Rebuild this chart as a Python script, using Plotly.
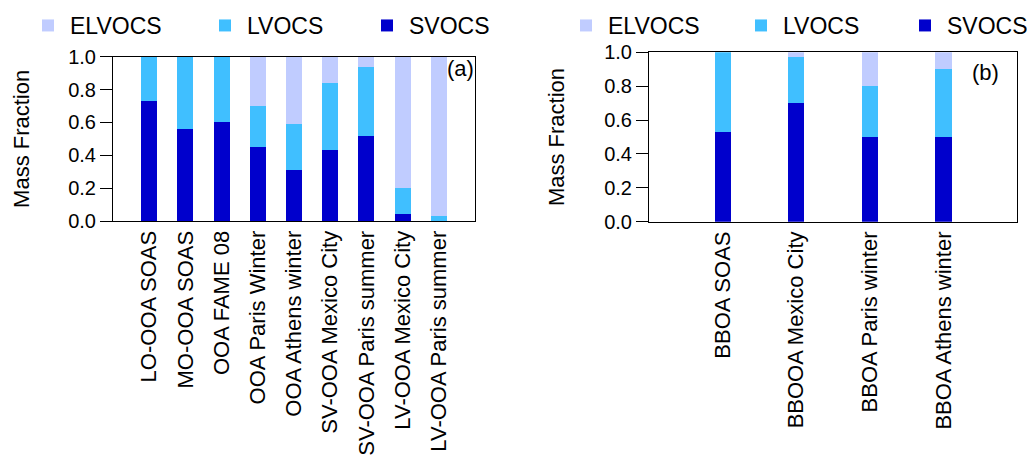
import plotly.graph_objects as go

# ---- data ----
cats_a = ["LO-OOA SOAS", "MO-OOA SOAS", "OOA FAME 08", "OOA Paris Winter",
          "OOA Athens winter", "SV-OOA Mexico City", "SV-OOA Paris summer",
          "LV-OOA Mexico City", "LV-OOA Paris summer"]
svocs_a = [0.73, 0.56, 0.60, 0.45, 0.31, 0.43, 0.52, 0.04, 0.00]
lvocs_a = [0.27, 0.44, 0.40, 0.25, 0.28, 0.41, 0.42, 0.16, 0.03]
elvocs_a = [0.00, 0.00, 0.00, 0.30, 0.41, 0.16, 0.06, 0.80, 0.97]

cats_b = ["BBOA SOAS", "BBOOA Mexico City", "BBOA Paris winter", "BBOA Athens winter"]
svocs_b = [0.53, 0.70, 0.50, 0.50]
lvocs_b = [0.47, 0.27, 0.30, 0.40]
elvocs_b = [0.00, 0.03, 0.20, 0.10]

yticks = [0.0, 0.2, 0.4, 0.6, 0.8, 1.0]

C_EL = "#C0CCFF"
C_LV = "#40BFFF"
C_SV = "#0000CC"

FONT = "Liberation Sans, Arial, sans-serif"
W, H = 1027, 458

fig = go.Figure()

def add_panel(cats, sv, lv, el, xa, ya, width, legs):
    for name, vals, col, lg in [("SVOCS", sv, C_SV, legs[2]),
                                 ("LVOCS", lv, C_LV, legs[1]),
                                 ("ELVOCS", el, C_EL, legs[0])]:
        fig.add_trace(go.Bar(x=cats, y=vals, name=name, width=width,
                             marker=dict(color=col, line=dict(width=0)),
                             xaxis=xa, yaxis=ya, legend=lg, showlegend=True))

add_panel(cats_a, svocs_a, lvocs_a, elvocs_a, "x", "y", 0.44,
          ["legend", "legend2", "legend3"])
add_panel(cats_b, svocs_b, lvocs_b, elvocs_b, "x2", "y2", 0.22,
          ["legend4", "legend5", "legend6"])

def px_x(p):
    return p / W

def px_y(p):
    return 1 - p / H

axis_common = dict(showline=True, linecolor="black", linewidth=1, mirror=True,
                   showgrid=False, zeroline=False, automargin=False)

fig.update_layout(
    width=W, height=H,
    margin=dict(l=0, r=0, t=0, b=0, autoexpand=False),
    paper_bgcolor="white", plot_bgcolor="white",
    barmode="stack",
    font=dict(family=FONT, size=21, color="black"),
    xaxis=dict(domain=[px_x(113), px_x(475)], anchor="y", type="category",
               range=[-1, 9], ticks="", tickangle=-90,
               tickfont=dict(size=22), ticklabelstandoff=0, **axis_common),
    yaxis=dict(domain=[px_y(221), px_y(56.7)], anchor="x", range=[0, 1],
               tickvals=yticks, tickformat=".1f", ticks="outside", ticklen=12,
               tickcolor="black", tickfont=dict(size=20),
               title=dict(text="Mass Fraction", font=dict(size=22), standoff=32),
               **axis_common),
    xaxis2=dict(domain=[px_x(649), px_x(1017)], anchor="y2", type="category",
                range=[-1, 4], ticks="", tickangle=-90,
                tickfont=dict(size=22), ticklabelstandoff=0, **axis_common),
    yaxis2=dict(domain=[px_y(221.7), px_y(52.3)], anchor="x2", range=[0, 1],
                tickvals=yticks, tickformat=".1f", ticks="outside", ticklen=12,
                tickcolor="black", tickfont=dict(size=20),
                title=dict(text="Mass Fraction", font=dict(size=22), standoff=33),
                **axis_common),
)

# legends: one entry each, positioned like the reference
leg_pos = {"legend": 40, "legend2": 217, "legend3": 379,
           "legend4": 578, "legend5": 753, "legend6": 917}
for key, xp in leg_pos.items():
    fig.update_layout(**{key: dict(x=(xp - 14) / W, y=1 - 25.5 / H,
                                   xanchor="left", yanchor="middle",
                                   orientation="h", itemwidth=34,
                                   bgcolor="rgba(0,0,0,0)", borderwidth=0,
                                   font=dict(size=23, family=FONT))})

fig.add_annotation(text="(a)", x=px_x(460), y=px_y(68), xref="paper", yref="paper",
                   showarrow=False, font=dict(size=22), xanchor="center", yanchor="middle")
fig.add_annotation(text="(b)", x=px_x(985), y=px_y(73), xref="paper", yref="paper",
                   showarrow=False, font=dict(size=22), xanchor="center", yanchor="middle")

fig.write_html("out.html")
